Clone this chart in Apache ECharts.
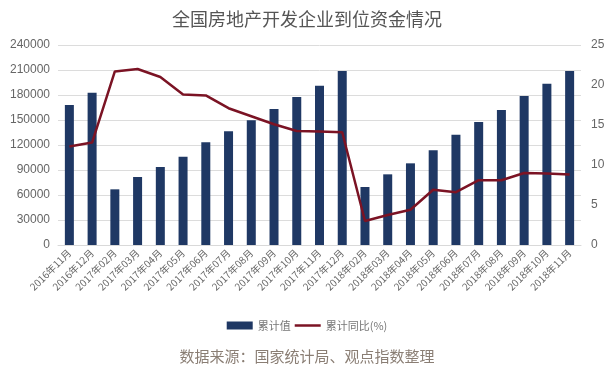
<!DOCTYPE html>
<html><head><meta charset="utf-8">
<script src="https://cdn.jsdelivr.net/npm/echarts@6/dist/echarts.min.js"></script>
<style>html,body{margin:0;padding:0;background:#fff}#c{width:614px;height:374px}</style>
</head><body><div id="c"></div>
<script>
const categories = ['2016年11月','2016年12月','2017年02月','2017年03月','2017年04月','2017年05月','2017年06月','2017年07月','2017年08月','2017年09月','2017年10月','2017年11月','2017年12月','2018年02月','2018年03月','2018年04月','2018年05月','2018年06月','2018年07月','2018年08月','2018年09月','2018年10月','2018年11月'];
const cumValue = [168000,182800,66800,81600,93600,106000,123200,136400,149600,163200,177600,191200,208800,69600,84800,98000,113600,132400,147600,162000,178800,193600,208800];
const cumYoY = [12.3,12.8,21.7,22.0,21.0,18.8,18.7,17.1,16.1,15.1,14.25,14.2,14.1,3.0,3.75,4.4,6.9,6.6,8.1,8.1,9.0,8.95,8.8];
const leftTicks = [0,240000,30000];
const rightTicks = [0,25,5];
const chart = echarts.init(document.getElementById('c'));
chart.setOption({
  animation:false,
  title:{text:'全国房地产开发企业到位资金情况',left:'center',top:5,textStyle:{fontSize:18,fontWeight:'normal',color:'#555',fontFamily:'Noto Sans CJK SC'}},
  graphic:[{type:'text',left:'center',top:349,style:{text:'数据来源：国家统计局、观点指数整理',fontSize:15,fill:'#8a7e74',fontFamily:'Noto Sans CJK SC'}}],
  legend:{top:315,left:'center',itemGap:4,itemWidth:26,itemHeight:8,textStyle:{fontSize:11,color:'#777',fontFamily:'Noto Sans CJK SC'},
    data:[{name:'累计值',icon:'rect'},{name:'累计同比(%)',icon:'path://M0,0H26V2.5H0Z'}]},
  grid:{left:58,right:33,top:45,bottom:129},
  xAxis:{type:'category',data:categories,axisTick:{show:false},axisLine:{lineStyle:{color:'#d9d9d9'}},
    axisLabel:{rotate:45,fontSize:10,color:'#666',interval:0,margin:6,fontFamily:'Noto Sans CJK SC'}},
  yAxis:[
    {type:'value',min:leftTicks[0],max:leftTicks[1],interval:leftTicks[2],axisLine:{show:false},axisTick:{show:false},
      axisLabel:{fontSize:12,color:'#666',fontFamily:'Liberation Sans',formatter:function(v){return String(v);}},splitLine:{lineStyle:{color:'#dcdcdc'}}},
    {type:'value',min:rightTicks[0],max:rightTicks[1],interval:rightTicks[2],axisLine:{show:false},axisTick:{show:false},
      axisLabel:{fontSize:12,color:'#666',margin:10,fontFamily:'Liberation Sans'},splitLine:{show:false}}
  ],
  series:[
    {name:'累计值',type:'bar',data:cumValue,barWidth:9,itemStyle:{color:'#1f3864'}},
    {name:'累计同比(%)',type:'line',yAxisIndex:1,data:cumYoY,symbol:'none',lineStyle:{color:'#7b1324',width:2.5},itemStyle:{color:'#7b1324'}}
  ]
});
</script></body></html>
